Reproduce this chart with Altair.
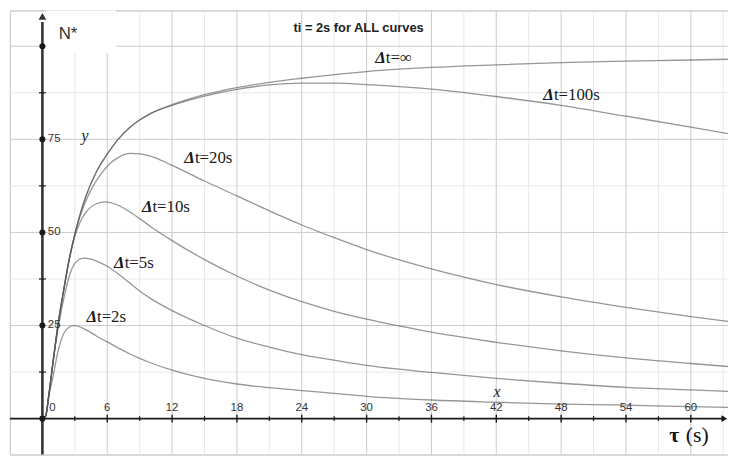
import altair as alt
import pandas as pd

X_MIN, X_MAX = -3.0, 63.44
Y_MIN, Y_MAX = -9.64, 109.6

# ---------------- curve data ----------------
tau_inf = [0, 0.3, 0.6, 1.0, 1.5, 2.0, 2.5, 3.0, 3.5, 4, 5, 6, 7, 8, 9, 10, 12, 15, 18, 21, 24, 27, 30, 36, 42, 48, 54, 60, 63.44]
n_inf = [0, 0.7, 6.5, 15.5, 26.3, 35.0, 43.0, 49.5, 55.0, 59.5, 66.3, 71.0, 75.0, 78.0, 80.2, 81.9, 84.3, 87.0, 88.9, 90.3, 91.4, 92.4, 93.2, 94.3, 95.0, 95.6, 96.0, 96.3, 96.5]

tau_100 = [0, 0.3, 0.6, 1.0, 1.5, 2.0, 2.5, 3.0, 3.5, 4, 5, 6, 7, 8, 9, 10, 12, 15, 18, 21, 24, 27, 30, 36, 42, 48, 54, 60, 63.44]
n_100 = [0, 0.7, 6.5, 15.5, 26.3, 35.0, 43.0, 49.5, 55.0, 59.5, 66.3, 71.0, 75.0, 78.0, 80.2, 81.9, 84.1, 86.6, 88.4, 89.6, 90.1, 90.1, 89.7, 88.5, 86.5, 84.1, 81.2, 78.3, 76.5]

tau_20 = [0, 0.3, 0.6, 1.0, 1.5, 2.0, 2.5, 3.0, 3.5, 4, 4.7, 5.5, 6.25, 7, 8.2, 9, 10, 12, 15, 18, 21, 24, 27, 30, 36, 42, 48, 54, 60, 63.44]
n_20 = [0, 0.7, 6.5, 15.5, 26.3, 35.0, 43.0, 49.5, 54.5, 58.3, 62.5, 66.0, 68.5, 70.1, 71.2, 71.1, 70.5, 68.0, 63.8, 59.8, 55.8, 52.0, 48.6, 45.4, 40.2, 36.0, 32.7, 29.9, 27.4, 26.1]

tau_10 = [0, 0.3, 0.6, 1.0, 1.5, 2.0, 2.5, 3.0, 3.5, 4, 5, 5.8, 7, 8, 9, 10, 12, 15, 18, 21, 24, 27, 30, 33, 36, 42, 48, 54, 60, 63.44]
n_10 = [0, 0.7, 6.5, 15.5, 26.3, 35.0, 43.0, 49.0, 52.8, 55.3, 57.7, 58.2, 57.3, 55.7, 53.7, 51.6, 47.8, 42.7, 38.3, 34.5, 31.4, 28.8, 26.7, 24.9, 23.2, 20.5, 18.2, 16.3, 14.8, 14.0]

tau_5 = [0, 0.3, 0.6, 1.0, 1.5, 2.0, 2.6, 3.2, 3.8, 4.5, 5, 6, 7, 8, 9, 10, 12, 15, 18, 21, 24, 27, 30, 36, 42, 48, 54, 60, 63.44]
n_5 = [0, 0.7, 6.5, 15.5, 25.0, 32.5, 39.3, 42.3, 43.1, 42.8, 42.3, 40.9, 38.9, 36.6, 34.3, 32.3, 29.0, 25.0, 21.6, 19.2, 17.2, 15.7, 14.3, 12.4, 10.8, 9.5, 8.4, 7.7, 7.3]

tau_2 = [0, 0.3, 0.6, 1.0, 1.4, 2.0, 2.5, 2.9, 3.5, 4, 5, 6, 7, 8, 9, 10, 12, 15, 18, 21, 24, 27, 30, 36, 42, 48, 54, 60, 63.44]
n_2 = [0, 0.7, 6.0, 11.5, 17.5, 23.0, 24.6, 25.0, 24.6, 23.9, 22.2, 20.6, 19.0, 17.5, 16.2, 15.0, 13.0, 10.8, 9.3, 8.3, 7.5, 6.8, 6.0, 5.0, 4.4, 3.9, 3.6, 3.2, 3.0]

series = [("inf", tau_inf, n_inf), ("100", tau_100, n_100), ("20", tau_20, n_20),
          ("10", tau_10, n_10), ("5", tau_5, n_5), ("2", tau_2, n_2)]

rows = []
for name, ts, ns in series:
    for i, (t, n) in enumerate(zip(ts, ns)):
        rows.append({"series": name, "tau": t, "N": n, "order": i})
curves_df = pd.DataFrame(rows)

# curve labels: "Δ" part and the rest
label_names = ["t=2s", "t=5s", "t=10s", "t=20s", "t=100s", "t=\u221e"]
label_tau = [5.05, 7.61, 10.18, 14.11, 47.33, 31.78]
label_n = [27.2, 41.8, 56.8, 70.0, 87.0, 96.7]
labels_df = pd.DataFrame({"tau": label_tau, "N": label_n, "text": label_names})

# axes ticks / labels
x_tick_labels = [6, 12, 18, 24, 30, 36, 42, 48, 54, 60]
x_minor_ticks = [3, 9, 15, 21, 27, 33, 39, 45, 51, 57, 63]
y_tick_labels = [25, 50, 75]
y_dots = [0, 25, 50, 75, 100]
y_minor_ticks = [12.5, 37.5, 62.5, 87.5]

grid_x_major = [6, 12, 18, 24, 30, 36, 42, 48, 54, 60]
grid_x_minor = [-3, 3, 9, 15, 21, 27, 33, 39, 45, 51, 57, 63]
grid_y_major = [25, 50, 75, 100]
grid_y_minor = [12.5, 37.5, 62.5, 87.5]

xs = alt.Scale(domain=[X_MIN, X_MAX], nice=False, zero=False)
ys = alt.Scale(domain=[Y_MIN, Y_MAX], nice=False, zero=False)


def X(field="tau"):
    return alt.X(f"{field}:Q", scale=xs, axis=None)


def Y(field="N"):
    return alt.Y(f"{field}:Q", scale=ys, axis=None)


# grid
gxm = alt.Chart(pd.DataFrame({"tau": grid_x_minor})).mark_rule(color="#e8e8e8", strokeWidth=1).encode(x=X())
gxM = alt.Chart(pd.DataFrame({"tau": grid_x_major})).mark_rule(color="#cbcbcb", strokeWidth=1).encode(x=X())
gym = alt.Chart(pd.DataFrame({"N": grid_y_minor})).mark_rule(color="#e8e8e8", strokeWidth=1).encode(y=Y())
gyM = alt.Chart(pd.DataFrame({"N": grid_y_major})).mark_rule(color="#cbcbcb", strokeWidth=1).encode(y=Y())

# white box behind N*
box = alt.Chart(pd.DataFrame({"t1": [0.35], "t2": [6.8], "n1": [98.2], "n2": [Y_MAX]})).mark_rect(
    color="white").encode(x=X("t1"), x2="t2", y=Y("n1"), y2="n2")

lines = alt.Chart(curves_df).mark_line(interpolate="monotone", strokeWidth=1.3, opacity=0.62, color="#555555").encode(
    x=X(), y=Y(), detail="series:N", order="order:Q")

# axes
x_axis = alt.Chart(pd.DataFrame({"t1": [X_MIN], "t2": [63.0], "N": [0]})).mark_rule(
    color="#1a1a1a", strokeWidth=1.6).encode(x=X("t1"), x2="t2", y=Y())
y_axis = alt.Chart(pd.DataFrame({"tau": [0], "n1": [Y_MIN], "n2": [106.5]})).mark_rule(
    color="#333333", strokeWidth=2.6).encode(x=X(), y=Y("n1"), y2="n2")
x_arrow = alt.Chart(pd.DataFrame({"tau": [63.1], "N": [0]})).mark_point(
    shape="triangle-right", filled=True, size=45, color="#1a1a1a", opacity=1).encode(x=X(), y=Y())
y_arrow = alt.Chart(pd.DataFrame({"tau": [0], "N": [108.0]})).mark_point(
    shape="triangle-up", filled=True, size=60, color="#333333", opacity=1).encode(x=X(), y=Y())

x_major_t = alt.Chart(pd.DataFrame({"tau": x_tick_labels, "N": [0] * len(x_tick_labels)})).mark_tick(
    orient="vertical", size=8, thickness=1.4, color="#1a1a1a", opacity=1).encode(x=X(), y=Y())
x_minor_t = alt.Chart(pd.DataFrame({"tau": x_minor_ticks, "N": [0] * len(x_minor_ticks)})).mark_tick(
    orient="vertical", size=5, thickness=1.2, color="#1a1a1a", opacity=1).encode(x=X(), y=Y())
y_minor_t = alt.Chart(pd.DataFrame({"tau": [0] * len(y_minor_ticks), "N": y_minor_ticks})).mark_tick(
    orient="horizontal", size=7, thickness=1.2, color="#1a1a1a", opacity=1).encode(x=X(), y=Y())
y_dot = alt.Chart(pd.DataFrame({"tau": [0] * len(y_dots), "N": y_dots})).mark_point(
    shape="circle", filled=True, size=38, color="#1a1a1a", opacity=1).encode(x=X(), y=Y())

tick_font = "Liberation Sans"
x_lab = alt.Chart(pd.DataFrame({"tau": x_tick_labels, "N": [0] * len(x_tick_labels),
                                "text": [str(v) for v in x_tick_labels]})).mark_text(
    font=tick_font, fontSize=11.5, color="#333333", align="center", baseline="middle", dy=-11).encode(
    x=X(), y=Y(), text="text:N")
x_zero = alt.Chart(pd.DataFrame({"tau": [0], "N": [0], "text": ["0"]})).mark_text(
    font=tick_font, fontSize=11.5, color="#333333", align="left", baseline="middle", dx=7, dy=-11).encode(
    x=X(), y=Y(), text="text:N")
y_lab = alt.Chart(pd.DataFrame({"tau": [0] * len(y_tick_labels), "N": y_tick_labels,
                                "text": [str(v) for v in y_tick_labels]})).mark_text(
    font=tick_font, fontSize=11.5, color="#333333", align="left", baseline="middle", dx=5.5).encode(
    x=X(), y=Y(), text="text:N")

# curve labels
delta = alt.Chart(labels_df).mark_text(font="Liberation Serif", fontSize=17, fontStyle="italic",
                                       fontWeight="bold", color="#1a1a1a", align="right",
                                       baseline="middle").encode(x=X(), y=Y(), text=alt.value("\u0394"))
rest = alt.Chart(labels_df).mark_text(font="Liberation Serif", fontSize=17, color="#1a1a1a",
                                      align="left", baseline="middle").encode(x=X(), y=Y(), text="text:N")

# other texts
title = alt.Chart(pd.DataFrame({"tau": [29.26], "N": [104.8], "text": ["ti = 2s for ALL curves"]})).mark_text(
    font="Liberation Sans", fontSize=13, fontWeight="bold", color="#222222", align="center",
    baseline="middle").encode(x=X(), y=Y(), text="text:N")
nstar = alt.Chart(pd.DataFrame({"tau": [1.51], "N": [103.3], "text": ["N*"]})).mark_text(
    font="Liberation Sans", fontSize=17, color="#333333", align="left", baseline="middle").encode(
    x=X(), y=Y(), text="text:N")
xy_names = alt.Chart(pd.DataFrame({"tau": [3.95, 42.07], "N": [75.9, 7.1], "text": ["y", "x"]})).mark_text(
    font="Liberation Serif", fontSize=16, fontStyle="italic", color="#222222", align="center",
    baseline="middle").encode(x=X(), y=Y(), text="text:N")
tau_sym = alt.Chart(pd.DataFrame({"tau": [58.0], "N": [-4.4], "text": ["\u03c4"]})).mark_text(
    font="Liberation Serif", fontSize=22, fontWeight="bold", color="#111111", align="left",
    baseline="middle").encode(x=X(), y=Y(), text="text:N")
tau_unit = alt.Chart(pd.DataFrame({"tau": [59.53], "N": [-4.4], "text": ["(s)"]})).mark_text(
    font="Liberation Serif", fontSize=22, color="#111111", align="left", baseline="middle").encode(
    x=X(), y=Y(), text="text:N")

chart = alt.layer(
    gxm, gym, gxM, gyM, box, lines, x_axis, y_axis, x_arrow, y_arrow,
    x_minor_t, x_major_t, y_minor_t, y_dot, x_lab, x_zero, y_lab,
    delta, rest, title, nstar, xy_names, tau_sym, tau_unit
).properties(
    width=726, height=449,
    autosize=alt.AutoSizeParams(type="none"),
    padding={"left": 2, "top": 0, "right": 0, "bottom": 0},
    background="white",
).configure_view(stroke="#b3b3b3", strokeWidth=1)

chart.save("out.html", embed_options={"renderer": "svg", "actions": False})
